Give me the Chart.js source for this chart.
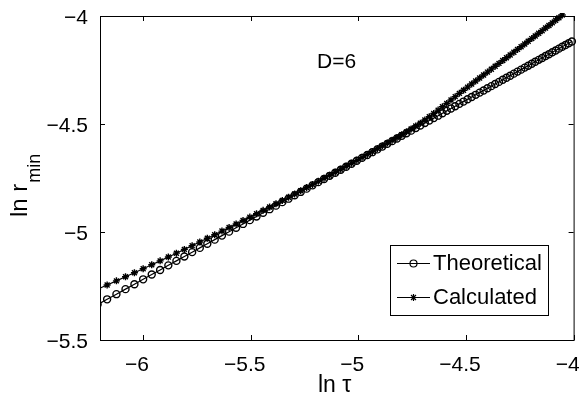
<!DOCTYPE html>
<html>
<head>
<meta charset="utf-8">
<script src="https://cdn.jsdelivr.net/npm/chart.js@4/dist/chart.umd.min.js"></script>
<style>
  html, body { margin: 0; padding: 0; background: #fff; }
  canvas { display: block; }
</style>
</head>
<body>
<canvas id="rminChart" width="579" height="395"></canvas>
<script>
// ln(tau) sample points shared by both curves
const lnTau = [
  -6.2111, -6.1669, -6.1237, -6.0815, -6.0401, -5.9995, -5.9597, -5.9207, -5.8825, -5.8450,
  -5.8081, -5.7720, -5.7364, -5.7015, -5.6672, -5.6335, -5.6003, -5.5677, -5.5356, -5.5040,
  -5.4729, -5.4423, -5.4121, -5.3824, -5.3531, -5.3242, -5.2958, -5.2677, -5.2401, -5.2128,
  -5.1859, -5.1593, -5.1331, -5.1072, -5.0817, -5.0565, -5.0316, -5.0070, -4.9827, -4.9586,
  -4.9349, -4.9115, -4.8883, -4.8654, -4.8427, -4.8203, -4.7982, -4.7763, -4.7546, -4.7332,
  -4.7120, -4.6910, -4.6702, -4.6497, -4.6293, -4.6092, -4.5892, -4.5695, -4.5499, -4.5306,
  -4.5114, -4.4924, -4.4736, -4.4550, -4.4365, -4.4182, -4.4001, -4.3821, -4.3643, -4.3466,
  -4.3291, -4.3118, -4.2946, -4.2775, -4.2606, -4.2439, -4.2272, -4.2108, -4.1944, -4.1782,
  -4.1621, -4.1461, -4.1303, -4.1146, -4.0990, -4.0835, -4.0682, -4.0529, -4.0378, -4.0228,
  -4.0079
];

// ln(r_min), theory
const theoretical = [
  -5.3361, -5.3117, -5.2878, -5.2645, -5.2416, -5.2191, -5.1971, -5.1756, -5.1544, -5.1337,
  -5.1133, -5.0933, -5.0736, -5.0543, -5.0354, -5.0167, -4.9984, -4.9803, -4.9626, -4.9451,
  -4.9279, -4.9110, -4.8943, -4.8779, -4.8617, -4.8457, -4.8300, -4.8144, -4.7992, -4.7841,
  -4.7692, -4.7545, -4.7400, -4.7257, -4.7116, -4.6976, -4.6839, -4.6703, -4.6568, -4.6435,
  -4.6304, -4.6175, -4.6046, -4.5920, -4.5794, -4.5670, -4.5548, -4.5427, -4.5307, -4.5189,
  -4.5071, -4.4955, -4.4840, -4.4727, -4.4614, -4.4503, -4.4392, -4.4283, -4.4175, -4.4068,
  -4.3962, -4.3857, -4.3753, -4.3650, -4.3548, -4.3447, -4.3347, -4.3247, -4.3149, -4.3051,
  -4.2954, -4.2858, -4.2763, -4.2669, -4.2575, -4.2483, -4.2390, -4.2300, -4.2209, -4.2119,
  -4.2030, -4.1942, -4.1855, -4.1768, -4.1681, -4.1596, -4.1511, -4.1427, -4.1343, -4.1260,
  -4.1178
];

// ln(r_min), numerical run (stops a few points earlier)
const calculated = [
  -5.2649, -5.2454, -5.2262, -5.2073, -5.1885, -5.1699, -5.1516, -5.1336, -5.1156, -5.0980,
  -5.0805, -5.0632, -5.0460, -5.0291, -5.0124, -4.9958, -4.9794, -4.9631, -4.9471, -4.9311,
  -4.9153, -4.8998, -4.8843, -4.8690, -4.8538, -4.8387, -4.8239, -4.8090, -4.7945, -4.7800,
  -4.7656, -4.7513, -4.7372, -4.7232, -4.7093, -4.6954, -4.6819, -4.6683, -4.6545, -4.6407,
  -4.6271, -4.6137, -4.6010, -4.5880, -4.5750, -4.5622, -4.5494, -4.5364, -4.5230, -4.5096,
  -4.4960, -4.4817, -4.4664, -4.4512, -4.4357, -4.4204, -4.4046, -4.3888, -4.3734, -4.3582,
  -4.3436, -4.3292, -4.3150, -4.3010, -4.2871, -4.2733, -4.2597, -4.2461, -4.2328, -4.2194,
  -4.2062, -4.1932, -4.1802, -4.1674, -4.1546, -4.1421, -4.1294, -4.1172, -4.1047, -4.0923,
  -4.0800, -4.0679, -4.0559, -4.0439, -4.0319, -4.0200, -4.0081, -3.9957
];

const seriesNames = ['Theoretical', 'Calculated'];
const annotation = 'D=6';

const FONT = "'Liberation Sans', Arial, Helvetica, sans-serif";
const INK = '#000';
const MARK_W = 1.4;

const toPoints = ys => ys.map((y, i) => ({ x: lnTau[i], y }));
const minusLabel = v => (v < 0 ? '\u2212' : '') + Math.abs(v);

const markerStyles = [
  { pointStyle: 'circle', radius: 3.5, borderWidth: MARK_W, rotation: 0 },
  { pointStyle: 'star', radius: 3.5, borderWidth: MARK_W, rotation: 0 }
];

// box, inward ticks, axis titles, text label and legend
const framePlugin = {
  id: 'frame',
  afterDraw(chart) {
    const { ctx, chartArea: a, scales: { x, y } } = chart;
    const tick = 5;
    ctx.save();
    ctx.strokeStyle = INK;
    ctx.lineWidth = 1;

    const seg = (x1, y1, x2, y2) => {
      ctx.beginPath();
      ctx.moveTo(x1, y1);
      ctx.lineTo(x2, y2);
      ctx.stroke();
    };

    ctx.strokeRect(a.left + 0.5, a.top + 0.5, a.right - a.left, a.bottom - a.top);

    x.ticks.forEach(t => {
      const px = Math.round(x.getPixelForValue(t.value)) + 0.5;
      seg(px, a.bottom, px, a.bottom - tick);
      seg(px, a.top, px, a.top + tick);
    });
    y.ticks.forEach(t => {
      const py = Math.round(y.getPixelForValue(t.value)) + 0.5;
      seg(a.left, py, a.left + tick, py);
      seg(a.right, py, a.right - tick, py);
    });

    ctx.fillStyle = INK;
    ctx.textAlign = 'left';
    ctx.textBaseline = 'alphabetic';

    // x title
    ctx.font = '23px ' + FONT;
    ctx.fillText('ln \u03c4', 318, 392);

    // y title with subscript
    ctx.save();
    ctx.translate(27, 217);
    ctx.rotate(-Math.PI / 2);
    ctx.font = '24px ' + FONT;
    ctx.fillText('ln r', 0, 0);
    const w = ctx.measureText('ln r').width;
    ctx.font = '18px ' + FONT;
    ctx.fillText('min', w + 1, 13);
    ctx.restore();

    // annotation
    ctx.font = '21px ' + FONT;
    ctx.fillText(annotation, 317, 68);

    // legend
    const lx = 390, ly = 245, lw = 158, lh = 70;
    ctx.fillStyle = '#fff';
    ctx.fillRect(lx, ly, lw, lh);
    ctx.strokeRect(lx + 0.5, ly + 0.5, lw, lh);
    const rows = [263, 297];
    seriesNames.forEach((name, i) => {
      const ry = rows[i] + 0.5;
      ctx.strokeStyle = INK;
      ctx.lineWidth = 1.2;
      seg(397, ry, 430, ry);
      ctx.fillStyle = 'rgba(0,0,0,0)';
      Chart.helpers.drawPoint(ctx, markerStyles[i], 413.5, ry);
      ctx.fillStyle = INK;
      ctx.font = '22px ' + FONT;
      ctx.textBaseline = 'middle';
      ctx.fillText(name, 433, rows[i] + 1);
    });

    ctx.restore();
  }
};

new Chart(document.getElementById('rminChart'), {
  type: 'scatter',
  data: {
    datasets: [
      {
        label: seriesNames[0],
        data: toPoints(theoretical),
        showLine: true,
        borderColor: INK,
        borderWidth: 1.2,
        pointStyle: 'circle',
        pointRadius: 3.5,
        pointBorderWidth: MARK_W,
        pointBorderColor: INK,
        pointBackgroundColor: 'rgba(0,0,0,0)',
        clip: { left: 0, top: 3, right: 3, bottom: 0 },
        order: 1
      },
      {
        label: seriesNames[1],
        data: toPoints(calculated),
        showLine: true,
        borderColor: INK,
        borderWidth: 1.2,
        pointStyle: 'star',
        pointRadius: 3.5,
        pointBorderWidth: MARK_W,
        pointBorderColor: INK,
        pointBackgroundColor: INK,
        clip: { left: 0, top: 3, right: 3, bottom: 0 },
        order: 0
      }
    ]
  },
  options: {
    responsive: false,
    devicePixelRatio: 1,
    animation: false,
    layout: { padding: { top: 16, right: 5, left: 0, bottom: 0 } },
    plugins: {
      legend: { display: false },
      tooltip: { enabled: false }
    },
    scales: {
      x: {
        type: 'linear',
        min: -6.2,
        max: -4,
        grid: { display: false },
        border: { display: false },
        ticks: {
          stepSize: 0.5,
          includeBounds: false,
          color: INK,
          font: { family: FONT, size: 21 },
          padding: 5,
          labelOffset: -6,
          maxRotation: 0,
          callback: minusLabel
        },
        afterFit: s => { s.height = 55; s.paddingLeft = 0; s.paddingRight = 0; }
      },
      y: {
        type: 'linear',
        min: -5.5,
        max: -4,
        grid: { display: false },
        border: { display: false },
        ticks: {
          stepSize: 0.5,
          includeBounds: false,
          color: INK,
          font: { family: FONT, size: 21 },
          padding: 4,
          labelOffset: 2,
          callback: minusLabel
        },
        afterFit: s => { s.width = 100; s.paddingTop = 0; s.paddingBottom = 0; }
      }
    }
  },
  plugins: [framePlugin]
});
</script>
</body>
</html>
